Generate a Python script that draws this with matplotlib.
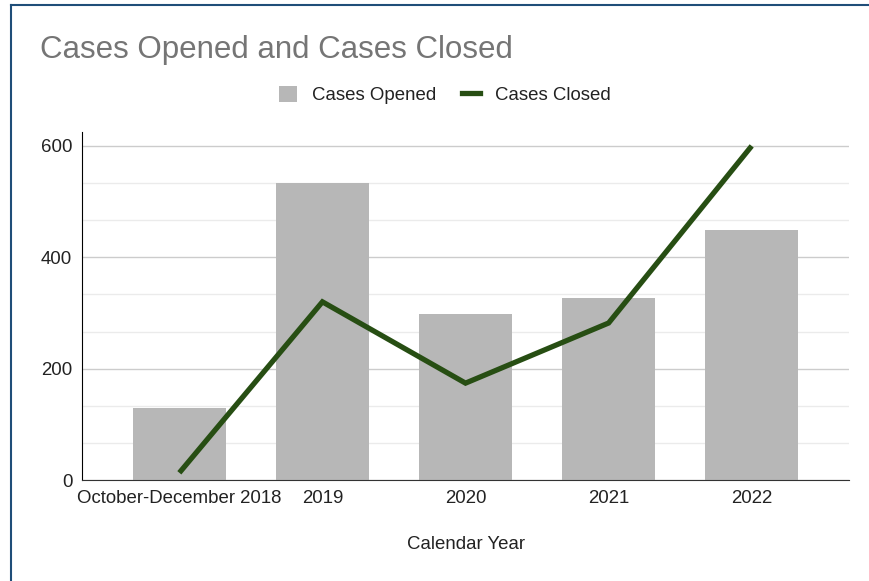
import matplotlib.pyplot as plt
from matplotlib.lines import Line2D
from matplotlib.patches import Patch
import numpy as np

plt.rcParams['font.family'] = ['Liberation Sans', 'DejaVu Sans']

categories = ['October-December 2018', '2019', '2020', '2021', '2022']
cases_opened = [129, 533, 298, 327, 449]
cases_closed = [13, 320, 174, 282, 600]

bar_color = '#b7b7b7'
line_color = '#274e13'
fs = 13.4

fig = plt.figure(figsize=(8.69, 5.81), dpi=100)
ax = fig.add_axes([0.0944, 0.1738, 0.8826, 0.599])

x = np.arange(len(categories))
ax.bar(x, cases_opened, width=0.65, color=bar_color, zorder=2)
ax.plot(x, cases_closed, color=line_color, linewidth=3.8, zorder=3,
        solid_joinstyle='miter', solid_capstyle='butt')

ax.set_xlim(-0.68, 4.68)
ax.set_ylim(0, 625)
ax.set_yticks([0, 200, 400, 600])
ax.set_yticks(np.arange(0, 601, 200 / 3), minor=True)
ax.grid(axis='y', which='major', color='#cccccc', linewidth=1, zorder=0)
ax.grid(axis='y', which='minor', color='#ebebeb', linewidth=1, zorder=0)
ax.tick_params(axis='y', which='both', length=0, labelsize=fs,
               labelcolor='#222222', pad=7)
ax.set_xticks(x)
ax.set_xticklabels(categories)
ax.tick_params(axis='x', length=0, labelsize=fs, labelcolor='#222222', pad=7)

for s in ['top', 'right']:
    ax.spines[s].set_visible(False)
ax.spines['left'].set_color('#000000')
ax.spines['bottom'].set_color('#333333')
ax.spines['left'].set_zorder(4)
ax.spines['bottom'].set_zorder(4)

ax.set_xlabel('Calendar Year', fontsize=fs, color='#222222', labelpad=21)

fig.text(40 / 869, 1 - 50 / 581, 'Cases Opened and Cases Closed',
         fontsize=22.5, color='#757575', va='center', ha='left')

handles = [Patch(facecolor=bar_color, edgecolor='none'),
           Line2D([0], [0], color=line_color, linewidth=3.8)]
fig.legend(handles, ['Cases Opened', 'Cases Closed'], loc='center',
           bbox_to_anchor=(445 / 869, 1 - 95 / 581), ncol=2, frameon=False,
           fontsize=fs, handlelength=0.95, handleheight=0.95,
           columnspacing=1.4, handletextpad=0.8, labelcolor='#222222')

# frame lines at top and left
fig.add_artist(Line2D([10.5 / 869, 10.5 / 869], [0, 1 - 5 / 581],
                      transform=fig.transFigure, color='#1f4e79', linewidth=1.5))
fig.add_artist(Line2D([10.5 / 869, 1], [1 - 5 / 581, 1 - 5 / 581],
                      transform=fig.transFigure, color='#1f4e79', linewidth=1.5))

fig.savefig('out.png', dpi=100)
